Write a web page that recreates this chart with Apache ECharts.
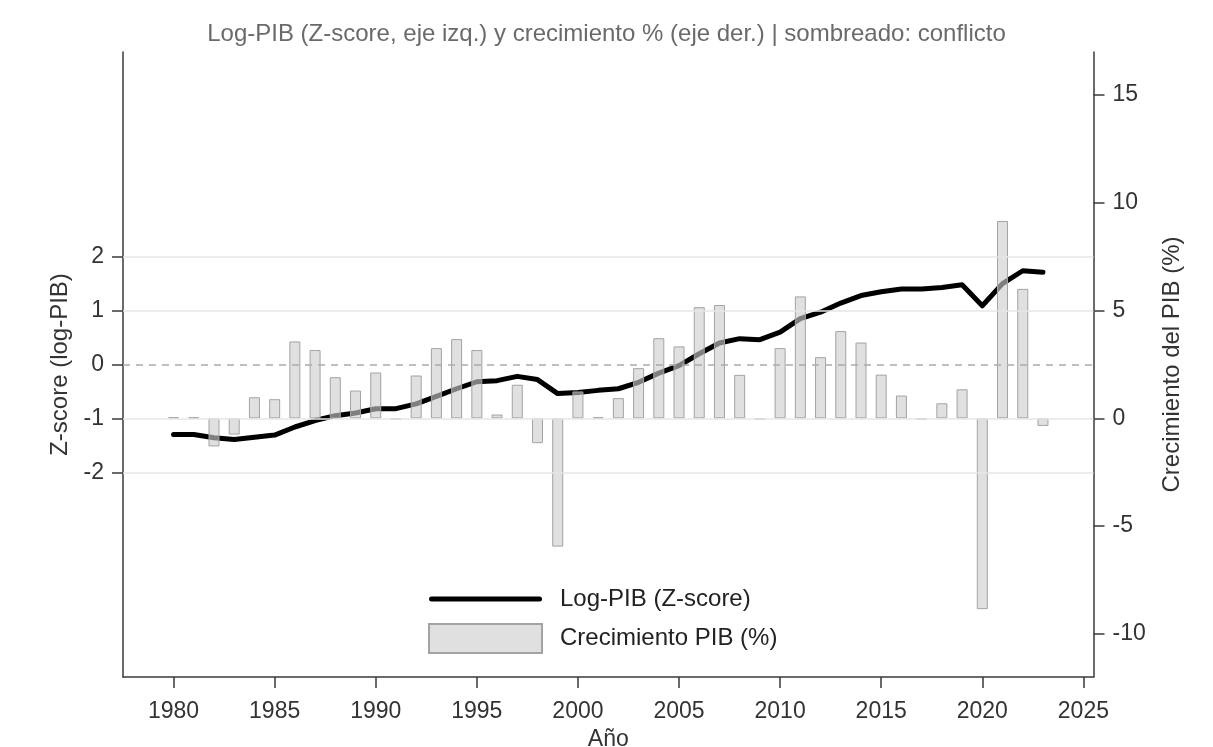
<!DOCTYPE html>
<html>
<head>
<meta charset="utf-8">
<script src="https://cdn.jsdelivr.net/npm/echarts@6/dist/echarts.min.js"></script>
<style>
html,body{margin:0;padding:0;background:#fff;}
#c{width:1213px;height:747px;}
</style>
</head>
<body>
<div id="c"></div>
<script>
const years = [1980,1981,1982,1983,1984,1985,1986,1987,1988,1989,1990,1991,1992,1993,1994,1995,1996,1997,1998,1999,2000,2001,2002,2003,2004,2005,2006,2007,2008,2009,2010,2011,2012,2013,2014,2015,2016,2017,2018,2019,2020,2021,2022,2023];
const logPibZ = [-1.30,-1.30,-1.36,-1.39,-1.35,-1.31,-1.16,-1.04,-0.95,-0.90,-0.82,-0.82,-0.73,-0.59,-0.45,-0.32,-0.30,-0.22,-0.28,-0.54,-0.52,-0.48,-0.45,-0.33,-0.16,-0.02,0.20,0.40,0.48,0.46,0.60,0.85,0.97,1.14,1.28,1.35,1.40,1.40,1.43,1.48,1.09,1.50,1.74,1.71];
const growthPct = [0.05,0.05,-1.3,-0.75,0.98,0.89,3.57,3.17,1.91,1.29,2.13,-0.05,1.99,3.26,3.68,3.17,0.18,1.56,-1.15,-5.95,1.25,0.05,0.94,2.33,3.72,3.34,5.16,5.26,2.02,-0.05,3.26,5.66,2.84,4.05,3.52,2.03,1.06,-0.05,0.70,1.35,-8.85,9.16,6.01,-0.35];
const xTicks = [1980,1985,1990,1995,2000,2005,2010,2015,2020,2025];
const leftTicks = [-2,-1,0,1,2];
const rightTicks = [-10,-5,0,5,10,15];
const titleText = 'Log-PIB (Z-score, eje izq.) y crecimiento % (eje der.) | sombreado: conflicto';
const lineName = 'Log-PIB (Z-score)';
const barName = 'Crecimiento PIB (%)';

const font = 'Liberation Sans, Arial, Helvetica, sans-serif';
const axisCol = '#3a3a3a';
const lineData = years.map((y,i)=>[y, logPibZ[i]]);
const barData = years.map((y,i)=>[y, growthPct[i]]);

const chart = echarts.init(document.getElementById('c'));
chart.setOption({
  backgroundColor: '#fff',
  animation: false,
  textStyle: {fontFamily: font},
  title: {
    text: titleText, left: 'center', top: 17,
    textStyle: {fontFamily: font, fontSize: 24, fontWeight: 'normal', color: '#6a6a6a'}
  },
  grid: {left: 123, right: 119.5, top: 52, bottom: 70, outerBoundsMode: 'none', containLabel: false},
  legend: {
    left: 423, top: 582, orient: 'vertical',
    itemWidth: 113, itemHeight: 29, itemGap: 12,
    symbolKeepAspect: true,
    textStyle: {fontFamily: font, fontSize: 24, color: '#222', padding: [0,0,0,13]},
    data: [
      {name: lineName, icon: 'path://M2.5,0 L110.5,0 A2.5,2.5 0 0 1 110.5,5 L2.5,5 A2.5,2.5 0 0 1 2.5,0 Z'},
      {name: barName, icon: 'rect'}
    ]
  },
  xAxis: {
    type: 'value', min: 1977.5, max: 2025.5,
    name: 'Año', nameLocation: 'middle', nameGap: 45,
    nameTextStyle: {fontFamily: font, fontSize: 23, color: '#333'},
    axisLine: {show: true, onZero: false, lineStyle: {color: axisCol, width: 1.5}},
    axisTick: {show: true, length: 11, customValues: xTicks, lineStyle: {color: axisCol, width: 1.5}},
    axisLabel: {customValues: xTicks, margin: 23, fontSize: 23, color: '#333', fontFamily: font,
      formatter: v => String(v)},
    splitLine: {show: false}
  },
  yAxis: [
    {
      type: 'value', min: -5.8, max: 5.8, position: 'left',
      name: 'Z-score (log-PIB)', nameLocation: 'middle', nameGap: 51, nameRotate: 90,
      nameTextStyle: {fontFamily: font, fontSize: 24, color: '#333'},
      axisLine: {show: true, onZero: false, lineStyle: {color: axisCol, width: 1.5}},
      axisTick: {show: true, length: 11, customValues: leftTicks, lineStyle: {color: axisCol, width: 1.5}},
      axisLabel: {customValues: leftTicks, margin: 19, fontSize: 23, color: '#333', fontFamily: font},
      splitLine: {show: false}
    },
    {
      type: 'value', min: -12, max: 17, position: 'right',
      name: 'Crecimiento del PIB (%)', nameLocation: 'middle', nameGap: 67, nameRotate: 90,
      nameTextStyle: {fontFamily: font, fontSize: 24, color: '#333'},
      axisLine: {show: true, onZero: false, lineStyle: {color: axisCol, width: 1.5}},
      axisTick: {show: true, length: 11, customValues: rightTicks, lineStyle: {color: axisCol, width: 1.5}},
      axisLabel: {customValues: rightTicks, margin: 19, fontSize: 23, color: '#333', fontFamily: font},
      splitLine: {show: false}
    }
  ],
  series: [
    {
      name: lineName, type: 'line', yAxisIndex: 0, data: lineData,
      symbol: 'none', showSymbol: false, z: 2,
      lineStyle: {color: '#000', width: 5, cap: 'round', join: 'round'},
      itemStyle: {color: '#000'},
      markLine: {
        silent: true, symbol: 'none', label: {show: false}, animation: false,
        lineStyle: {color: '#e6e6e6', width: 1.5, type: 'solid'},
        data: [
          {yAxis: 2}, {yAxis: 1}, {yAxis: -1}, {yAxis: -2},
          {yAxis: 0, lineStyle: {color: '#ababab', width: 1.5, type: [7, 6]}}
        ]
      }
    },
    {
      name: barName, type: 'bar', yAxisIndex: 1, data: barData,
      barWidth: 11, z: 3,
      itemStyle: {color: 'rgba(205,205,205,0.62)', borderColor: '#a3a3a3', borderWidth: 1}
    }
  ]
});
</script>
</body>
</html>
